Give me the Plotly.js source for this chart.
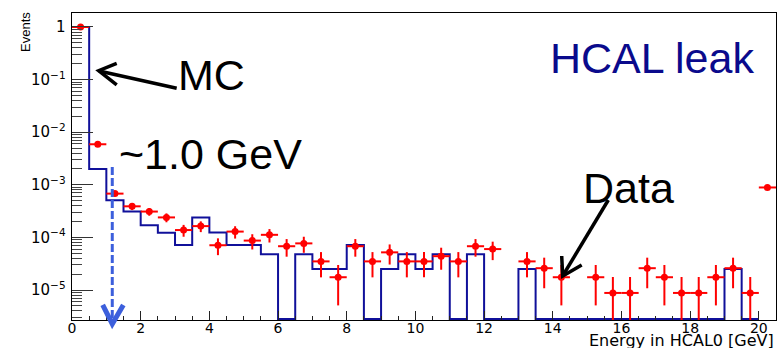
<!DOCTYPE html>
<html><head><meta charset="utf-8">
<script src="https://cdn.plot.ly/plotly-3.0.1.min.js"></script>
<style>html,body{margin:0;padding:0;background:#fff}#chart{width:779px;height:348px}</style>
</head><body><div id="chart"></div>
<script>
// MC histogram: bin edges (0.5 GeV bins) and contents
const mcBinEdges = [0,0.5,1,1.5,2,2.5,3,3.5,4,4.5,5,5.5,6,6.5,7,7.5,8,8.5,9,9.5,10,10.5,11,11.5,12,12.5,13,13.5,14,14.5,15,15.5,16,16.5,17,17.5,18,18.5,19,19.5,20];
const mcValues = [1.0,2.0e-3,5.1e-4,3.1e-4,1.7e-4,1.23e-4,7.2e-5,2.4e-4,1.24e-4,7.2e-5,
  7.2e-5,4.8e-5,0,4.8e-5,2.5e-5,2.5e-5,7.2e-5,0,2.5e-5,4.8e-5,
  2.5e-5,4.8e-5,0,4.8e-5,0,0,2.5e-5,0,0,0,
  0,0,0,0,0,0,0,0,2.5e-5,0];

// Data points: bin centres, values, statistical errors
const dataX = [0.25,0.75,1.25,1.75,2.25,2.75,3.25,3.75,4.25,4.75,5.25,5.75,6.25,6.75,7.25,7.75,8.25,8.75,9.25,9.75,10.25,10.75,11.25,11.75,12.25,12.75,13.25,13.75,14.25,14.75,15.25,15.75,16.25,16.75,17.25,17.75,18.25,18.75,19.25,19.75,20.25];
const dataY = [1.0,5.9e-3,6.8e-4,3.9e-4,3.1e-4,2.4e-4,1.38e-4,1.64e-4,7.1e-5,1.29e-4,
  8.7e-5,1.12e-4,6.8e-5,7.7e-5,3.5e-5,1.75e-5,6.8e-5,3.5e-5,5.2e-5,3.5e-5,
  3.5e-5,4.4e-5,3.5e-5,6.8e-5,6.0e-5,null,3.5e-5,2.6e-5,1.75e-5,null,
  1.75e-5,8.8e-6,8.8e-6,2.6e-5,1.75e-5,8.8e-6,8.8e-6,1.75e-5,2.6e-5,8.8e-6,8.9e-4];
const dataErr = [0.003,2.3e-4,7.7e-5,5.9e-5,5.2e-5,4.6e-5,3.5e-5,3.8e-5,2.5e-5,3.4e-5,
  2.8e-5,3.2e-5,2.5e-5,2.6e-5,1.76e-5,1.24e-5,2.5e-5,1.76e-5,2.15e-5,1.76e-5,
  1.76e-5,1.97e-5,1.76e-5,2.5e-5,2.3e-5,null,1.76e-5,1.52e-5,1.24e-5,null,
  1.24e-5,8.8e-6,8.8e-6,1.52e-5,1.24e-5,8.8e-6,8.8e-6,1.24e-5,1.52e-5,8.8e-6,8.9e-5];
const binHalfWidth = 0.25;

const xTickVals = [0,2,4,6,8,10,12,14,16,18,20];
const xTickText = ['0','2','4','6','8','10','12','14','16','18','20'];

const yRange = [-5.57, 0.266];
const xRange = [0, 20.5];

// empty MC bins are drawn along the bottom of the frame
const floorVal = Math.pow(10, yRange[0] + 0.02);
const mcStepY = mcValues.map(v => v > 0 ? v : floorVal);
mcStepY.push(mcStepY[mcStepY.length - 1]);

// pixel -> paper helpers for the hand-drawn annotation arrows
const ML = 72, MT = 13, MR = 3, MB = 28, FW = 779, FH = 348;
const PW = FW - ML - MR, PH = FH - MT - MB;
const px = x => (x - ML) / PW;
const py = y => (FH - MB - y) / PH;
const path = pts => pts.map((p, i) => (i ? 'L' : 'M') + px(p[0]).toFixed(4) + ',' + py(p[1]).toFixed(4)).join(' ');

const traces = [
  {
    x: mcBinEdges, y: mcStepY, type: 'scatter', mode: 'lines',
    line: {shape: 'hv', color: '#10109a', width: 2},
    hoverinfo: 'skip'
  },
  {
    x: dataX, y: dataY, type: 'scatter', mode: 'markers',
    marker: {color: '#ff0000', size: 7},
    error_y: {type: 'data', array: dataErr, visible: true, color: '#ff0000', thickness: 2, width: 0},
    error_x: {type: 'constant', value: binHalfWidth, visible: true, color: '#ff0000', thickness: 2, width: 0}
  }
];

const bigFont = {family: 'Liberation Sans, Arial, sans-serif', size: 43, color: '#000'};

const layout = {
  width: FW, height: FH,
  margin: {l: ML, r: MR, t: MT, b: MB, pad: 0},
  paper_bgcolor: '#fff', plot_bgcolor: '#fff',
  showlegend: false,
  xaxis: {
    range: xRange, tickvals: xTickVals, ticktext: xTickText,
    ticks: 'inside', ticklen: 9, tickwidth: 1, tickcolor: '#222',
    minor: {ticks: 'inside', dtick: 0.5, ticklen: 4, tickwidth: 1, tickcolor: '#222'},
    showline: true, linecolor: '#000', linewidth: 1, mirror: true,
    showgrid: false, zeroline: false, ticklabelstandoff: -5,
    tickfont: {family: 'DejaVu Sans, sans-serif', size: 14, color: '#000'}
  },
  yaxis: {
    type: 'log', range: yRange, dtick: 1, exponentformat: 'power',
    ticks: 'inside', ticklen: 21, tickwidth: 1, tickcolor: '#333',
    minor: {ticks: 'inside', dtick: 'D1', ticklen: 10, tickwidth: 1, tickcolor: '#444'},
    showline: true, linecolor: '#000', linewidth: 1, mirror: true,
    showgrid: false, zeroline: false, ticklabelstandoff: 3,
    tickfont: {family: 'DejaVu Sans, sans-serif', size: 12, color: '#000'}
  },
  annotations: [
    {text: 'HCAL leak', xref: 'paper', yref: 'paper', x: px(652), y: py(58), xanchor: 'center', yanchor: 'middle', showarrow: false,
     font: {family: 'Liberation Sans, Arial, sans-serif', size: 43, color: '#0a0a8c'}},
    {text: 'MC', xref: 'paper', yref: 'paper', x: px(211), y: py(74.5), xanchor: 'center', yanchor: 'middle', showarrow: false, font: bigFont},
    {text: '~1.0 GeV', xref: 'paper', yref: 'paper', x: px(210.5), y: py(154), xanchor: 'center', yanchor: 'middle', showarrow: false, font: bigFont},
    {text: 'Data', xref: 'paper', yref: 'paper', x: px(628.5), y: py(187.5), xanchor: 'center', yanchor: 'middle', showarrow: false, font: bigFont},
    {text: 'Events', xref: 'paper', yref: 'paper', x: px(25), y: py(32), xanchor: 'center', yanchor: 'middle', textangle: -90, showarrow: false,
     font: {family: 'Liberation Sans, Arial, sans-serif', size: 13, color: '#000'}},
    {text: 'Energy in HCAL0 [GeV]', xref: 'paper', yref: 'paper', x: 1.0, y: py(340.3), xanchor: 'right', yanchor: 'middle', showarrow: false,
     font: {family: 'DejaVu Sans, sans-serif', size: 16, color: '#000'}}
  ],
  shapes: [
    // MC arrow
    {type: 'path', xref: 'paper', yref: 'paper', path: path([[176.7, 88.3], [99, 71]]), line: {color: '#000', width: 3.5}},
    {type: 'path', xref: 'paper', yref: 'paper', path: path([[116.7, 63.3], [98.7, 70.7], [116.7, 85]]), line: {color: '#000', width: 3.5}},
    // Data arrow
    {type: 'path', xref: 'paper', yref: 'paper', path: path([[608.3, 200], [563.5, 274.5]]), line: {color: '#000', width: 3.5}},
    {type: 'path', xref: 'paper', yref: 'paper', path: path([[561.7, 256], [562.7, 276], [581.7, 265]]), line: {color: '#000', width: 3.5}},
    // ~1 GeV dashed arrow
    {type: 'path', xref: 'paper', yref: 'paper', path: path([[112.3, 167], [112.3, 321]]), line: {color: '#3c5fdc', width: 3, dash: '8px,3px'}},
    {type: 'path', xref: 'paper', yref: 'paper', path: path([[102.7, 305], [112.3, 324], [123.3, 305]]), line: {color: '#3c5fdc', width: 5}}
  ]
};

Plotly.newPlot('chart', traces, layout, {displayModeBar: false, staticPlot: true});
</script>
</body></html>
